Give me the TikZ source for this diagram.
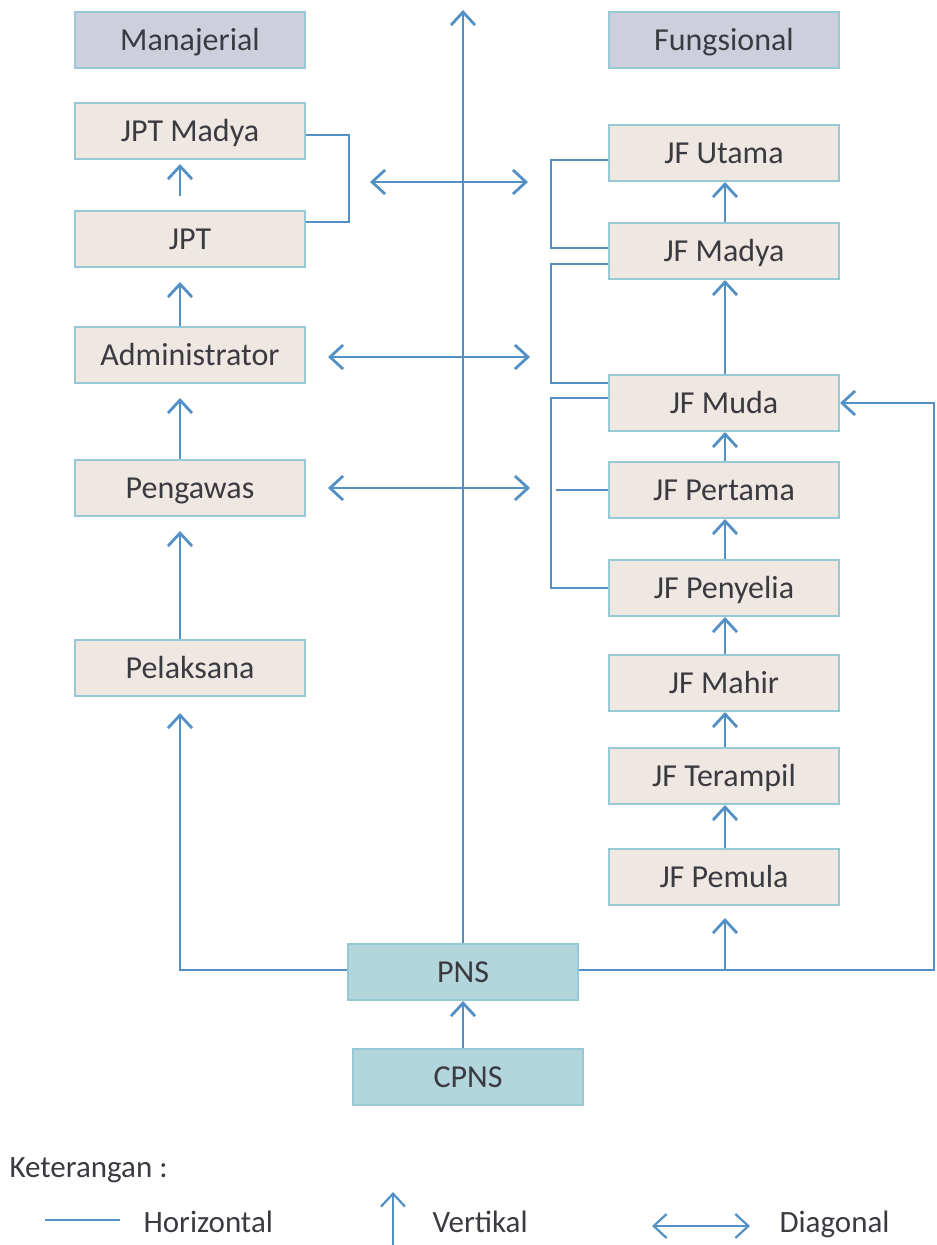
\documentclass[tikz,border=0pt]{standalone}
\usepackage{fontspec}
\setmainfont{Carlito}
\usetikzlibrary{arrows.meta}
\definecolor{lineblue}{RGB}{82,144,198}
\definecolor{boxfill}{RGB}{239,232,226}
\definecolor{boxedge}{RGB}{150,200,214}
\definecolor{headfill}{RGB}{205,207,221}
\definecolor{basefill}{RGB}{178,214,219}
\definecolor{txt}{RGB}{58,58,64}

\begin{document}
\begin{tikzpicture}[x=1pt,y=-1pt,
  font=\fontsize{32}{38}\selectfont, text=txt,
  box/.style={draw=boxedge, line width=2pt, fill=boxfill,
    minimum width=230pt, minimum height=56pt, inner sep=0pt,
    text height=20pt, text depth=0pt},
  head/.style={box, fill=headfill},
  base/.style={box, fill=basefill},
  conn/.style={draw=lineblue, line width=2.8pt},
  tip/.tip={Straight Barb[length=13pt,width=24pt]},
  up/.style={conn, -tip},
  both/.style={conn, tip-tip},
  legend/.style={anchor=base west, font=\fontsize{31}{36}\selectfont},
]
\useasboundingbox (0,0) rectangle (937,1245);

% columns for the vertical arrows
\coordinate (lx) at (180,0);
\coordinate (rx) at (725,0);

% managerial track
\node[head] (man) at (190,40) {Manajerial};
\node[box] (jptm) at (190,131) {JPT Madya};
\node[box] (jpt) at (190,239) {JPT};
\node[box] (adm) at (190,355) {Administrator};
\node[box] (pgw) at (190,488) {Pengawas};
\node[box] (pel) at (190,668) {Pelaksana};

% functional track
\node[head] (fun) at (724,40) {Fungsional};
\node[box] (utama) at (724,153) {JF Utama};
\node[box] (madya) at (724,251) {JF Madya};
\node[box] (muda) at (724,403) {JF Muda};
\node[box] (pertama) at (724,490) {JF Pertama};
\node[box] (penyelia) at (724,588) {JF Penyelia};
\node[box] (mahir) at (724,683) {JF Mahir};
\node[box] (terampil) at (724,776) {JF Terampil};
\node[box] (pemula) at (724,877) {JF Pemula};

% entry
\node[base] (pns) at (463,972) {PNS};
\node[base] (cpns) at (468,1077) {CPNS};

% vertical moves, managerial
\draw[up, shorten <=14pt, shorten >=4pt] (jpt.north -| lx) -- (jptm.south -| lx);
\draw[up, shorten >=14pt] (adm.north -| lx) -- (jpt.south -| lx);
\draw[up, shorten >=14pt] (pgw.north -| lx) -- (adm.south -| lx);
\draw[up, shorten >=14pt] (pel.north -| lx) -- (pgw.south -| lx);

% vertical moves, functional
\draw[up] (madya.north -| rx) -- (utama.south -| rx);
\draw[up] (muda.north -| rx) -- (madya.south -| rx);
\draw[up] (pertama.north -| rx) -- (muda.south -| rx);
\draw[up] (penyelia.north -| rx) -- (pertama.south -| rx);
\draw[up] (mahir.north -| rx) -- (penyelia.south -| rx);
\draw[up] (terampil.north -| rx) -- (mahir.south -| rx);
\draw[up] (pemula.north -| rx) -- (terampil.south -| rx);

% from PNS
\coordinate (top) at (463,10);
\coordinate (rc) at (934,0);
\draw[up] (pns.north -| top) -- (top);
\draw[up] (cpns.north -| pns) -- (pns.south);
\draw[up, shorten >=16pt] (pns.west |- 0,970) -| (pel.south -| lx);
\draw[up] (pns.east |- 0,970) -| (rc |- muda.east) -- (muda.east);
\draw[up, shorten >=12pt] (rx |- 0,970) -- (pemula.south -| rx);

% horizontal links
\draw[conn] (jptm.east |- 0,135) -| (349,222) -- (jpt.east |- 0,222);
\draw[conn] (utama.west |- 0,160) -| (551,248) -- (madya.west |- 0,248);
\draw[conn] (madya.west |- 0,264) -| (551,383) -- (muda.west |- 0,383);
\draw[conn] (muda.west |- 0,398) -| (551,588) -- (penyelia.west);
\coordinate (stub) at (556,490);
\draw[conn] (stub) -- (pertama.west);

% diagonal links
\coordinate (d1a) at (370,182); \coordinate (d1b) at (528,182);
\coordinate (d2a) at (328,357); \coordinate (d2b) at (530,357);
\coordinate (d3a) at (328,488); \coordinate (d3b) at (530,488);
\draw[both] (d1a) -- (d1b);
\draw[both] (d2a) -- (d2b);
\draw[both] (d3a) -- (d3b);

% legend
\node[legend] (ket) at (6,1177) {Keterangan :};
\coordinate (h1) at (45,1220); \coordinate (h2) at (120,1220);
\draw[conn, line width=2.2pt] (h1) -- (h2);
\node[legend] (hor) at (140,1232) {Horizontal};
\coordinate (v1) at (393,1245); \coordinate (v2) at (393,1192);
\draw[up, line width=2.2pt] (v1) -- (v2);
\node[legend] (ver) at (429,1232) {Vertikal};
\coordinate (g1) at (652,1226); \coordinate (g2) at (750,1226);
\draw[both, line width=2.2pt] (g1) -- (g2);
\node[legend] (dia) at (776,1232) {Diagonal};
\end{tikzpicture}
\end{document}
